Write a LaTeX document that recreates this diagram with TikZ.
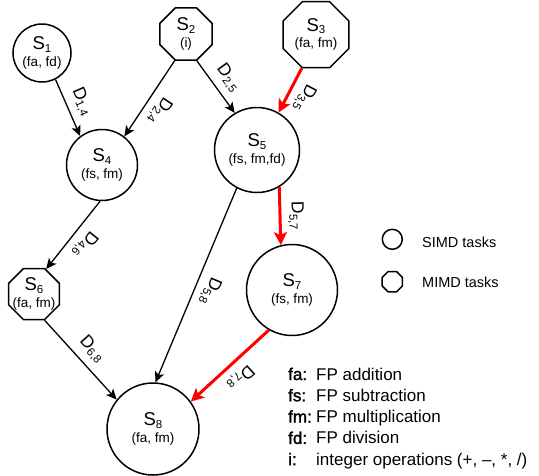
\documentclass[tikz,border=0pt]{standalone}
\usepackage{fontspec}
\setmainfont{Liberation Sans}
\newfontfamily\keyfont[FakeBold=1.5]{Liberation Sans}
\usetikzlibrary{arrows.meta,shapes.geometric}

\newcommand\sub[1]{\raisebox{-2.5pt}{\fontsize{11.5}{11.5}\selectfont #1}}
\newcommand\tasklbl[2]{\makebox[0pt]{\raisebox{\dimexpr(\depth-\height)/2-0.8pt\relax}[0pt][0pt]{\begin{tabular}{@{}c@{}}\fontsize{18.5}{18.5}\selectfont S\sub{#1}\\[1.5pt]\fontsize{13.5}{15}\selectfont #2\end{tabular}}}}

\tikzset{
  every node/.style={inner sep=0pt, font=\fontsize{13.5}{15}\selectfont},
  simd/.style={circle, draw, line width=1.5pt, minimum size=#1},
  mimd/.style={regular polygon, regular polygon sides=8, draw, line width=1.5pt, minimum size=#1},
  arr/.style={line width=1.3pt, -{Stealth[length=10.5pt,width=9.5pt,inset=2.5pt]}},
  redarr/.style={draw=red, line width=3pt, -{Stealth[length=13pt,width=13pt,inset=3pt]}},
  elab/.style={sloped, allow upside down, above=5.5pt, inner sep=1pt, font=\fontsize{17.5}{17.5}\selectfont},
  keytext/.style={anchor=base west, font=\fontsize{14.5}{14.5}\selectfont},
}

\begin{document}
\begin{tikzpicture}[x=1pt, y=-1pt]
\useasboundingbox (0,0) rectangle (539,475);

% task nodes
\node[simd=58pt]   (S1) at (42,53)    {\tasklbl{1}{(fa, fd)}};
\node[mimd=56.3pt] (S2) at (186,34)   {\tasklbl{2}{(i)}};
\node[mimd=71.4pt] (S3) at (316,34.7) {\tasklbl{3}{(fa, fm)}};
\node[simd=71pt]   (S4) at (102,165)  {\tasklbl{4}{(fs, fm)}};
\node[simd=85pt]   (S5) at (257,150)  {\tasklbl{5}{(fs, fm,fd)}};
\node[mimd=55.2pt] (S6) at (34,294)   {\tasklbl{6}{(fa, fm)}};
\node[simd=91pt]   (S7) at (292,290)  {\tasklbl{7}{(fs, fm)}};
\node[simd=92pt]   (S8) at (153,429)  {\tasklbl{8}{(fa, fm)}};

% connectors
\draw[arr]    (S1.-63)    -- node[elab]{D\sub{1,4}} (S4.127);
\draw[arr]    (S2.247.5)  -- node[elab, pos=0.55]{D\sub{2,4}} (S4.52);
\draw[arr]    (S2.292.5)  -- node[elab]{D\sub{2,5}} (S5.121);
\draw[redarr] (S3.247.5)  -- node[elab, text=black]{D\sub{3,5}} (S5.60);
\draw[arr]    (S4.-93)    -- node[elab]{D\sub{4,6}} (S6.64);
\draw[arr]    (S5.-118)   -- node[elab]{D\sub{5,8}} (S8.87);
\draw[redarr] (S5.-59.4)  -- node[elab, text=black]{D\sub{5,7}} (S7.104);
\draw[arr]    (S6.292.5)  -- node[elab]{D\sub{6,8}} (S8.141);
\draw[redarr] (S7.-120)   -- node[elab, text=black]{D\sub{7,8}} (S8.36);

% key
\node[simd=20pt] (simdkey) at (392.3,239.3) {};
\node[keytext] (simdtxt) at (422,247) {SIMD tasks};
\node[mimd=22pt] (mimdkey) at (392.3,281.7) {};
\node[keytext] (mimdtxt) at (422,287) {MIMD tasks};

\node[anchor=base west, font=\fontsize{17}{21.3}\selectfont] (defs) at (288,380)
  {\begin{tabular}[t]{@{}p{28pt}@{}l@{}}
   {\keyfont fa:} & FP addition\\
   {\keyfont fs:} & FP subtraction\\
   {\keyfont fm:} & FP multiplication\\
   {\keyfont fd:} & FP division\\
   {\keyfont i:}  & integer operations (+, –, *, /)
   \end{tabular}};
\end{tikzpicture}
\end{document}
